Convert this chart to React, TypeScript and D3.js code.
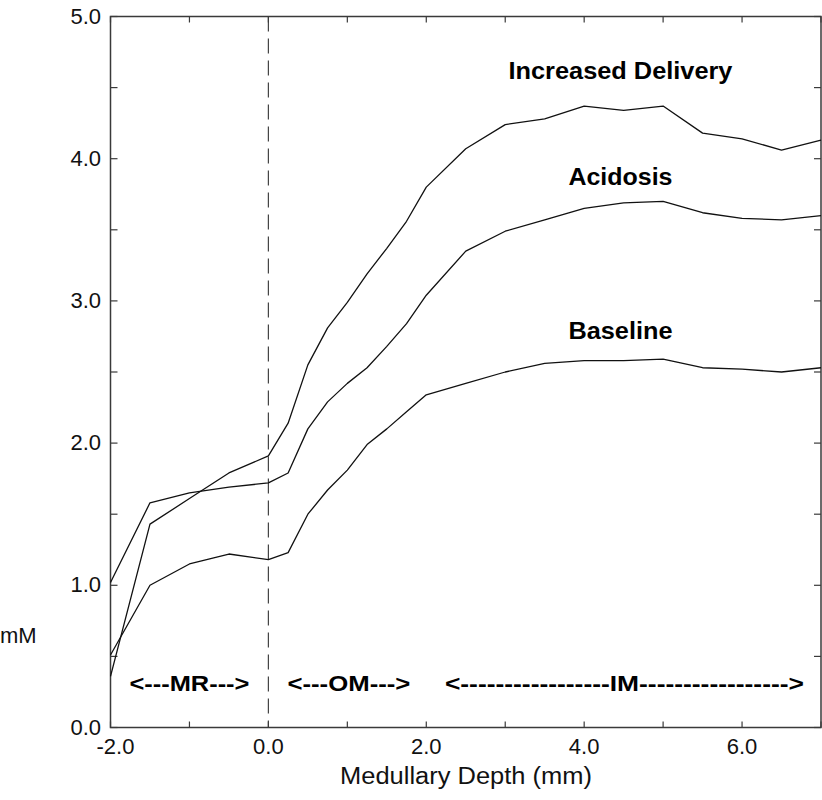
import React from 'react';
import * as d3 from 'd3';

const depth = [-2, -1.5, -1, -0.5, 0, 0.25, 0.5, 0.75, 1, 1.25, 1.5, 1.75, 2, 2.5, 3, 3.5, 4, 4.5, 5, 5.5, 6, 6.5, 7];
const increasedDelivery = [0.36, 1.43, 1.61, 1.79, 1.91, 2.14, 2.55, 2.81, 2.99, 3.19, 3.37, 3.56, 3.8, 4.07, 4.24, 4.28, 4.37, 4.34, 4.37, 4.18, 4.14, 4.06, 4.13];
const acidosis = [1.02, 1.58, 1.65, 1.69, 1.72, 1.79, 2.1, 2.29, 2.42, 2.53, 2.68, 2.84, 3.04, 3.35, 3.49, 3.57, 3.65, 3.69, 3.7, 3.62, 3.58, 3.57, 3.6];
const baseline = [0.51, 1.0, 1.15, 1.22, 1.18, 1.23, 1.5, 1.67, 1.81, 1.99, 2.1, 2.22, 2.34, 2.42, 2.5, 2.56, 2.58, 2.58, 2.59, 2.53, 2.52, 2.5, 2.53];

const seriesNames = ['Increased Delivery', 'Acidosis', 'Baseline'];
const xTickValues = [-2, -1, 0, 1, 2, 3, 4, 5, 6, 7];
const xTickLabels = ['-2.0', '0.0', '2.0', '4.0', '6.0'];
const yTickValues = [0, 0.5, 1, 1.5, 2, 2.5, 3, 3.5, 4, 4.5, 5];
const yTickLabels = ['0.0', '1.0', '2.0', '3.0', '4.0', '5.0'];
const regionNames = ['<---MR--->', '<---OM--->', '<-----------------IM----------------->'];
const regionCenters = [-1, 1.02, 4.51];

export default function App() {
  const left = 110.5, right = 821, top = 16.5, bottom = 727.5;
  const x = d3.scaleLinear().domain([-2, 7]).range([left, right]);
  const y = d3.scaleLinear().domain([0, 5]).range([bottom, top]);
  const line = d3.line<number>().x((_, i) => x(depth[i])).y((d) => y(d));
  const all = [increasedDelivery, acidosis, baseline];
  const font = '"Liberation Sans", Arial, Helvetica, sans-serif';
  const axisColor = '#3a3a3a';

  const seriesLabelPos = [
    { cx: x(4.46), by: 79, w: 224 },
    { cx: x(4.46), by: 185, w: 104 },
    { cx: x(4.46), by: 339, w: 104 },
  ];
  const regionWidths = [120, 123, 359];

  return (
    <svg width={822} height={800} style={{ position: 'absolute', left: 0, top: 0, background: '#fff' }}>
      <rect x={0} y={0} width={822} height={800} fill="#fff" />
      {/* dashed separator at depth 0 */}
      <line x1={x(0)} x2={x(0)} y1={top} y2={bottom} stroke="#444" strokeWidth={1.2} strokeDasharray="15,7" />
      {/* frame */}
      <rect x={left} y={top} width={right - left} height={bottom - top} fill="none" stroke={axisColor} strokeWidth={1.5} />
      {/* x ticks bottom & top */}
      {xTickValues.map((v) => (
        <g key={'xt' + v}>
          <line x1={x(v)} x2={x(v)} y1={bottom} y2={bottom - 6} stroke={axisColor} strokeWidth={1.2} />
          <line x1={x(v)} x2={x(v)} y1={top} y2={top + 6} stroke={axisColor} strokeWidth={1.2} />
        </g>
      ))}
      {/* y ticks left & right */}
      {yTickValues.map((v) => (
        <g key={'yt' + v}>
          <line x1={left} x2={left + 7} y1={y(v)} y2={y(v)} stroke={axisColor} strokeWidth={1.2} />
          <line x1={right} x2={right - 7} y1={y(v)} y2={y(v)} stroke={axisColor} strokeWidth={1.2} />
        </g>
      ))}
      {/* y tick labels */}
      {yTickLabels.map((t) => (
        <text key={'yl' + t} x={101} y={y(+t) + 7} textAnchor="end" fontFamily={font} fontSize={22} fill="#111">
          {t}
        </text>
      ))}
      {/* x tick labels */}
      {xTickLabels.map((t) => (
        <text key={'xl' + t} x={x(+t) + (t.startsWith('-') ? 5 : 0)} y={754} textAnchor="middle" fontFamily={font} fontSize={22} fill="#111">
          {t}
        </text>
      ))}
      <text x={466} y={784} textAnchor="middle" fontFamily={font} fontSize={23} fill="#111" textLength={252} lengthAdjust="spacingAndGlyphs">
        Medullary Depth (mm)
      </text>
      <text x={0} y={643} fontFamily={font} fontSize={22} fill="#111">
        mM
      </text>
      {/* series lines */}
      {all.map((s, i) => (
        <path key={'s' + i} d={line(s) || ''} fill="none" stroke="#111" strokeWidth={1.3} strokeLinejoin="round" />
      ))}
      {/* series labels */}
      {seriesNames.map((n, i) => (
        <text
          key={'n' + i}
          x={seriesLabelPos[i].cx - seriesLabelPos[i].w / 2}
          y={seriesLabelPos[i].by}
          fontFamily={font}
          fontWeight="bold"
          fontSize={23.5}
          fill="#000"
          textLength={seriesLabelPos[i].w}
          lengthAdjust="spacingAndGlyphs"
        >
          {n}
        </text>
      ))}
      {/* region labels */}
      {regionNames.map((n, i) => (
        <text
          key={'r' + i}
          x={x(regionCenters[i]) - regionWidths[i] / 2}
          y={691}
          fontFamily={font}
          fontWeight="bold"
          fontSize={22}
          fill="#000"
          textLength={regionWidths[i]}
          lengthAdjust="spacingAndGlyphs"
        >
          {n}
        </text>
      ))}
    </svg>
  );
}
